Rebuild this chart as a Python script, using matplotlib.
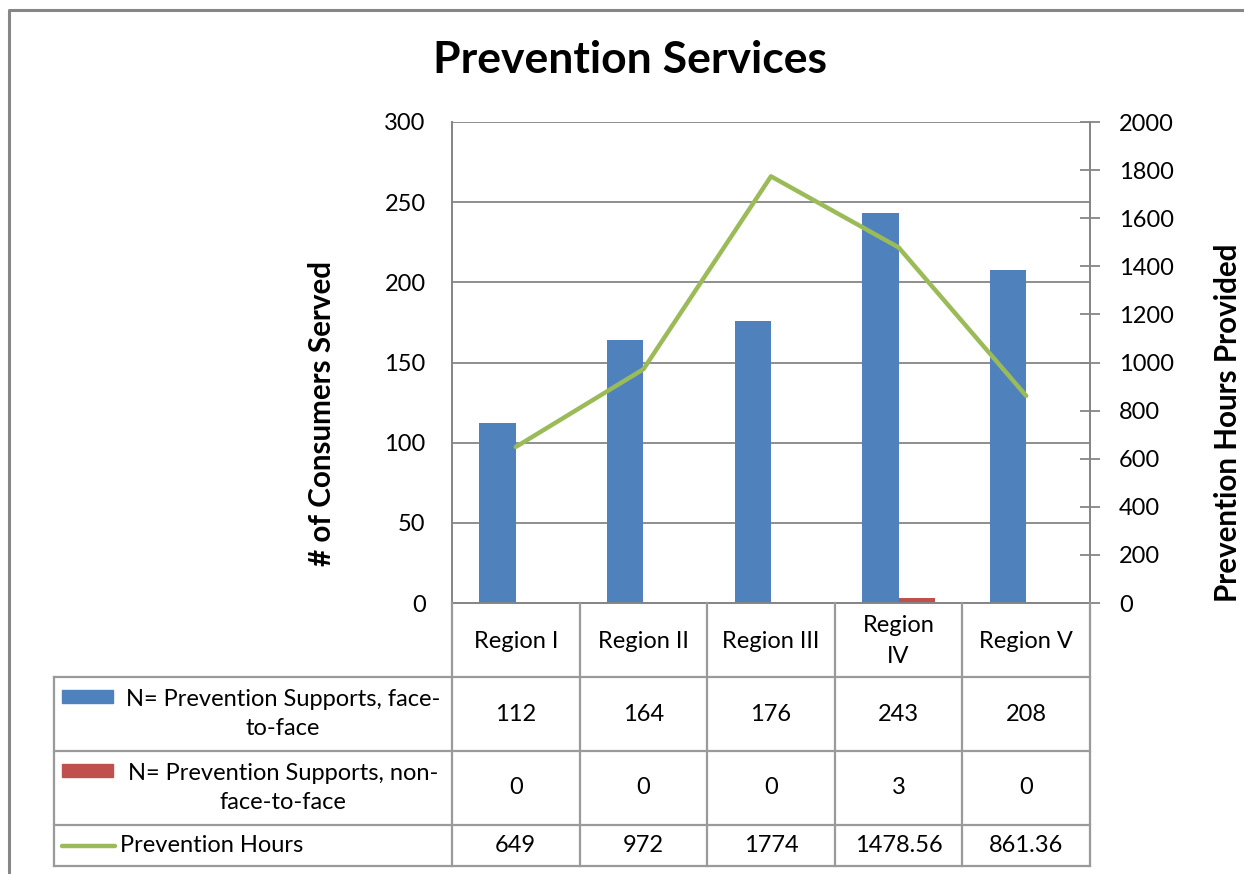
import matplotlib
matplotlib.use("Agg")  # headless
import matplotlib.pyplot as plt
from matplotlib.patches import Rectangle
from matplotlib.lines import Line2D

regions = ["Region I", "Region II", "Region III", "Region\nIV", "Region V"]
face_to_face = [112, 164, 176, 243, 208]
non_face_to_face = [0, 0, 0, 3, 0]
hours = [649, 972, 1774, 1478.56, 861.36]
series_names = ["N= Prevention Supports, face-\nto-face",
                "N= Prevention Supports, non-\nface-to-face",
                "Prevention Hours"]

BLUE = "#4F81BD"
RED = "#C0504D"
GREEN = "#9BBB59"
GRID = "#868686"
FONT = "Lato"

W, H = 1244, 874
plt.rcParams["font.family"] = [FONT, "DejaVu Sans"]

fig = plt.figure(figsize=(W / 100, H / 100), dpi=100)


def box(x0, y0, x1, y1):
    # pixel box (top-left origin) -> figure fraction rect
    return [x0 / W, 1 - y1 / H, (x1 - x0) / W, (y1 - y0) / H]


# outer chart border (runs off the right and bottom edges)
fig.add_artist(Line2D([9 / W, 9 / W, 1.01], [-0.01, 1 - 10 / H, 1 - 10 / H],
                      transform=fig.transFigure, color=GRID, linewidth=2.2))

fig.text(630 / W, 1 - 60 / H, "Prevention Services", ha="center", va="center",
         fontsize=32, fontweight="bold")

ax = fig.add_axes(box(452, 122, 1090, 603))
ax2 = ax.twinx()

x = list(range(len(regions)))
bw = 0.285
ax.bar([i - bw / 2 for i in x], face_to_face, width=bw, color=BLUE, zorder=3)
ax.bar([i + bw / 2 for i in x], non_face_to_face, width=bw, color=RED, zorder=3)
ax.set_xlim(-0.5, len(regions) - 0.5)
ax.set_ylim(0, 300)
ax.set_yticks(range(0, 301, 50))
ax.set_xticks([])
ax.yaxis.grid(True, color=GRID, linewidth=1.3)
ax.set_axisbelow(True)
ax.tick_params(axis="y", length=0, pad=19, labelsize=17)

ax2.plot(x, hours, color=GREEN, linewidth=3.2, solid_capstyle="round", zorder=4)
ax2.set_ylim(0, 2000)
ax2.set_yticks(range(0, 2001, 200))
ax2.tick_params(axis="y", direction="inout", length=14, width=1.3, color=GRID,
                pad=14, labelsize=17)

for a in (ax, ax2):
    a.spines["top"].set_visible(False)
    for side in ("bottom", "left", "right"):
        a.spines[side].set_color(GRID)
        a.spines[side].set_linewidth(1.3)

fig.text(322 / W, 1 - 413 / H, "# of Consumers Served", rotation=90,
         ha="center", va="center", fontsize=21.3, fontweight="bold")
fig.text(1228 / W, 1 - 423 / H, "Prevention Hours Provided", rotation=90,
         ha="center", va="center", fontsize=21.3, fontweight="bold")

# data table under the plot, aligned with the category slots
tax = fig.add_axes(box(54, 603, 1090, 866))
px = 638 / len(regions)
left = -0.5 - (452 - 54) / px
tax.set_xlim(left, len(regions) - 0.5)
tax.set_ylim(866, 603)
tax.axis("off")

LINE = "#9A9A9A"
rows = [603, 677, 751, 825, 866]
for y in rows[1:]:
    tax.plot([left, len(regions) - 0.5], [y, y], color=LINE, lw=1.6, clip_on=False)
for b in range(len(regions) + 1):
    tax.plot([b - 0.5, b - 0.5], [603, 866], color=LINE, lw=1.6, clip_on=False)
tax.plot([left, left], [677, 866], color=LINE, lw=1.6, clip_on=False)

fs = 17
for i, name in enumerate(regions):
    tax.text(i, (rows[0] + rows[1]) / 2 + 1, name, ha="center", va="center",
             fontsize=fs, linespacing=1.55)

table_rows = [face_to_face, non_face_to_face, hours]
for r, vals in enumerate(table_rows):
    yc = (rows[r + 1] + rows[r + 2]) / 2
    for i, v in enumerate(vals):
        tax.text(i, yc, f"{v:g}", ha="center", va="center", fontsize=fs)

# legend keys inside the table's first column
kx0 = left + (62 - 54) / px
kx1 = left + (113 - 54) / px
text_c = left + (283 - 54) / px
for r, col in enumerate([BLUE, RED]):
    y0 = rows[r + 1] + 13
    tax.add_patch(Rectangle((kx0, y0), kx1 - kx0, 13, color=col, clip_on=False))
    tax.text(text_c, (rows[r + 1] + rows[r + 2]) / 2, series_names[r],
             ha="center", va="center", fontsize=fs, linespacing=1.5,
             multialignment="center")
ly = (rows[3] + rows[4]) / 2
tax.plot([left + (62 - 54) / px, left + (115 - 54) / px], [ly, ly], color=GREEN,
         lw=3.2, solid_capstyle="round", clip_on=False)
tax.text(left + (120 - 54) / px, ly, series_names[2], ha="left", va="center",
         fontsize=fs)

fig.savefig("out.png", dpi=100)
